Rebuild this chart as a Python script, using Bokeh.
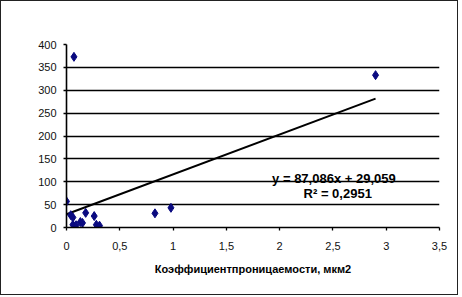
from bokeh.plotting import figure
from bokeh.layouts import column
from bokeh.models import Range1d, Label, CustomJSTickFormatter, FixedTicker
from bokeh.embed import file_html
from bokeh.resources import INLINE

# Data
perm_x = [0.0, 0.04, 0.06, 0.06, 0.09, 0.13, 0.15, 0.18, 0.26, 0.28, 0.31, 0.07, 0.83, 0.98, 2.90]
value_y = [57, 27, 22, 6, 5, 12, 10, 32, 25, 6, 4, 373, 31, 43, 333]
slope = 87.086
intercept = 29.059
r2_text = "R² = 0,2951"
eq_text = "y = 87,086x  + 29,059"
x_ticks = [0, 0.5, 1, 1.5, 2, 2.5, 3, 3.5]
y_ticks = [0, 50, 100, 150, 200, 250, 300, 350, 400]
x_title = "Коэффициентпроницаемости, мкм2"
y_title = "Qдс"

FONT = "Liberation Sans"

p = figure(width=456, height=293, output_backend="svg", toolbar_location=None,
           x_range=Range1d(0, 3.5), y_range=Range1d(0, 400),
           min_border_left=65, min_border_right=18, min_border_top=43, min_border_bottom=67)
p.background_fill_color = "white"
p.border_fill_color = "white"
p.outline_line_color = None

p.xgrid.grid_line_color = None
p.ygrid.grid_line_color = "black"
p.ygrid.grid_line_width = 1.3
p.ygrid.ticker = FixedTicker(ticks=y_ticks)

p.xaxis.ticker = FixedTicker(ticks=x_ticks)
p.yaxis.ticker = FixedTicker(ticks=y_ticks)
p.xaxis.formatter = CustomJSTickFormatter(code="return tick.toString().replace('.', ',');")

for ax in (p.xaxis, p.yaxis):
    ax.axis_line_color = "black"
    ax.axis_line_width = 1.6
    ax.major_tick_line_color = "black"
    ax.major_tick_line_width = 1.3
    ax.major_tick_out = 3
    ax.major_tick_in = 0
    ax.minor_tick_line_color = None
    ax.major_label_text_font = FONT
    ax.major_label_text_font_size = "11px"
    ax.major_label_text_color = "#111111"

p.yaxis.major_label_standoff = 7
p.xaxis.major_label_standoff = 11

p.xaxis.axis_label = x_title
p.xaxis.axis_label_text_font = FONT
p.xaxis.axis_label_text_font_style = "bold"
p.xaxis.axis_label_text_font_size = "11px"
p.xaxis.axis_label_text_color = "black"
p.xaxis.axis_label_standoff = 10

# trend line over the data span
tx = [min(perm_x), max(perm_x)]
ty = [slope * v + intercept for v in tx]
p.line(tx, ty, line_color="black", line_width=2)

p.scatter(perm_x, value_y, marker="diamond", size=9, fill_color="#0a0a80",
          line_color="#0a0a80")

p.add_layout(Label(x=2.526, y=108, text=eq_text, text_align="center",
                   text_baseline="alphabetic", text_font=FONT, text_font_style="bold",
                   text_font_size="13px", text_color="black"))
p.add_layout(Label(x=2.545, y=74, text=r2_text, text_align="center",
                   text_baseline="alphabetic", text_font=FONT, text_font_style="bold",
                   text_font_size="13px", text_color="black"))
p.add_layout(Label(x=-0.42, y=41, text=y_title, text_align="center",
                   text_baseline="middle", text_font=FONT, text_font_style="bold",
                   text_font_size="14px", text_color="black"))

layout = column(p, styles={"border": "1px solid #222222"})

open("out.html", "w").write(file_html(layout, INLINE))
